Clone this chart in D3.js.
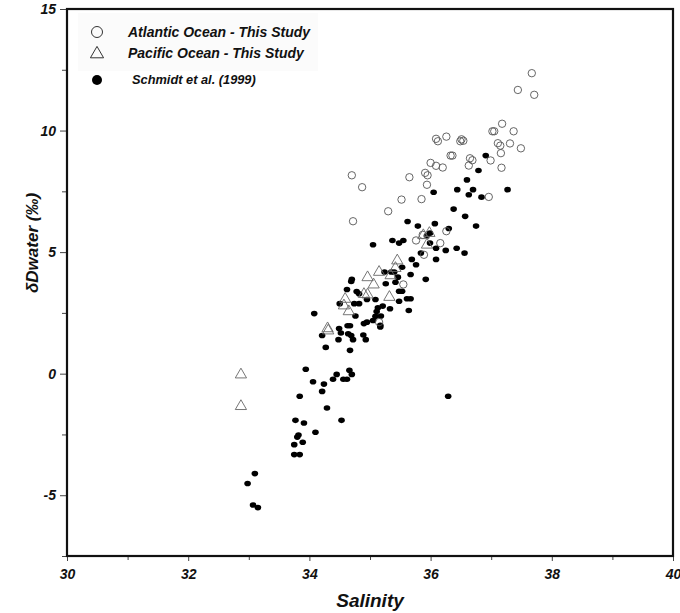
<!DOCTYPE html>
<html>
<head>
<meta charset="utf-8">
<script src="https://cdn.jsdelivr.net/npm/d3@7"></script>
<style>
  body { margin: 0; background: #fff; }
  svg { display: block; font-family: "Liberation Sans", Arial, sans-serif; }
  .tick text { font-weight: bold; font-style: italic; font-size: 14px; fill: #111; }
</style>
</head>
<body>
<svg id="chart" width="680" height="613"></svg>
<script>
// Atlantic Ocean - This Study (salinity, dD)
const atlantic = [
  [37.67, 12.36], [37.44, 11.67], [37.71, 11.47], [37.18, 10.28], [37.02, 9.97],
  [37.05, 9.97], [37.37, 9.97], [36.09, 9.66], [36.12, 9.56], [36.26, 9.75],
  [36.51, 9.64], [36.54, 9.58], [36.49, 9.56], [37.11, 9.48], [37.15, 9.38],
  [37.31, 9.47], [37.49, 9.27], [37.16, 9.07], [36.33, 8.97], [36.36, 8.97],
  [36.65, 8.86], [36.69, 8.78], [36.99, 8.77], [36.63, 8.56], [36.00, 8.67],
  [36.09, 8.55], [36.20, 8.48], [37.17, 8.47], [35.91, 8.26], [35.95, 8.16],
  [35.65, 8.08], [35.94, 7.77], [35.52, 7.16], [35.85, 7.18], [36.96, 7.27],
  [36.26, 5.86], [35.76, 5.48], [36.16, 5.37], [35.89, 4.89], [34.70, 8.16],
  [34.87, 7.67], [35.30, 6.68], [34.72, 6.27], [35.55, 3.67], [35.15, 2.12],
  [35.87, 5.71]
];

// Pacific Ocean - This Study
const pacific = [
  [35.45, 4.69], [35.42, 4.38], [34.96, 4.00], [35.15, 4.22], [35.06, 3.70],
  [35.34, 4.08], [34.90, 3.31], [34.96, 3.29], [34.59, 3.11], [34.57, 2.84],
  [34.65, 2.60], [35.32, 3.19], [34.30, 1.90], [34.31, 1.81], [32.87, 0.00],
  [32.87, -1.30], [35.88, 5.73], [35.98, 5.82], [35.94, 5.34]
];

// Schmidt et al. (1999)
const schmidt = [
  [36.91, 8.97], [36.79, 8.36], [36.60, 7.97], [36.44, 7.57], [36.70, 7.57],
  [36.63, 7.36], [36.84, 7.26], [37.27, 7.57], [36.05, 7.46], [36.38, 6.77],
  [36.57, 6.47], [36.75, 6.07], [35.62, 6.26], [35.79, 6.07], [36.07, 6.17],
  [36.30, 5.97], [35.55, 5.48], [35.94, 5.68], [35.99, 5.78], [35.99, 5.37],
  [36.09, 5.16], [36.25, 5.07], [36.43, 5.16], [36.56, 4.96], [35.84, 4.96],
  [35.69, 4.70], [36.09, 4.70], [35.05, 5.30], [35.37, 5.48], [35.48, 5.37],
  [35.76, 4.48], [35.67, 4.08], [35.53, 4.38], [35.40, 4.18], [35.35, 4.18],
  [35.24, 4.18], [35.26, 3.70], [35.46, 3.97], [35.42, 3.76], [35.92, 3.88],
  [35.48, 3.39], [35.53, 3.39], [35.48, 2.98], [35.61, 3.08], [35.67, 3.08],
  [35.64, 2.60], [34.70, 3.88], [34.69, 3.79], [34.62, 3.46], [34.78, 3.38],
  [34.82, 3.29], [34.95, 3.05], [35.09, 3.05], [34.50, 2.88], [34.82, 2.88],
  [34.74, 2.88], [35.13, 2.71], [35.21, 2.78], [35.33, 2.67], [35.11, 2.56],
  [35.09, 2.36], [35.18, 2.37], [34.76, 2.37], [34.08, 2.47], [34.95, 2.12],
  [35.05, 2.19], [34.90, 2.06], [35.17, 1.99], [35.17, 1.92], [34.63, 1.97],
  [34.67, 1.97], [34.49, 1.86], [34.52, 1.67], [34.64, 1.64], [34.21, 1.57],
  [34.69, 1.57], [34.72, 1.40], [34.89, 1.59], [34.93, 1.40], [34.48, 1.40],
  [34.27, 1.08], [34.67, 0.96], [33.94, 0.18], [34.06, -0.33], [34.24, -0.43],
  [34.45, -0.03], [34.39, -0.23], [34.66, 0.14], [34.70, -0.03], [34.56, -0.23],
  [34.62, -0.23], [34.21, -0.73], [33.84, -0.93], [34.29, -1.41], [34.53, -1.92],
  [33.77, -1.92], [33.91, -2.03], [34.10, -2.41], [33.82, -2.52], [33.80, -2.61],
  [33.75, -2.92], [33.89, -2.82], [33.75, -3.33], [33.84, -3.33], [33.10, -4.11],
  [32.98, -4.52], [33.07, -5.40], [33.15, -5.51], [36.29, -0.93]
];

const xMajor = [30, 32, 34, 36, 38, 40];
const xMinor = [31, 33, 35, 37, 39];
const yMajor = [-5, 0, 5, 10, 15];
const yMinor = [-7.5, -2.5, 2.5, 7.5, 12.5];

const legendItems = [
  { label: 'Atlantic Ocean - This Study', type: 'circle' },
  { label: 'Pacific Ocean - This Study', type: 'triangle' },
  { label: 'Schmidt et al. (1999)', type: 'dot' }
];

const svg = d3.select('#chart');
const plot = { left: 67, right: 673, top: 9, bottom: 556 };

const x = d3.scaleLinear().domain([30, 40]).range([plot.left, plot.right]);
const y = d3.scaleLinear().domain([-7.5, 15]).range([plot.bottom, plot.top]);

// axes (plain hyphen for negatives, like the original)
const plain = d => String(d);
const xAxis = svg.append('g').attr('transform', `translate(0,${plot.bottom})`)
  .call(d3.axisBottom(x).tickValues(xMajor).tickFormat(plain).tickSize(5).tickPadding(5));
svg.append('g').attr('transform', `translate(0,${plot.bottom})`)
  .call(d3.axisBottom(x).tickValues(xMinor).tickFormat('').tickSize(4));
svg.append('g').attr('transform', `translate(${plot.left},0)`)
  .call(d3.axisLeft(y).tickValues(yMajor).tickFormat(plain).tickSize(7).tickPadding(4));
svg.append('g').attr('transform', `translate(${plot.left},0)`)
  .call(d3.axisLeft(y).tickValues(yMinor).tickFormat('').tickSize(5));
svg.selectAll('.domain').remove();
svg.selectAll('.tick line').attr('stroke', '#444').attr('stroke-width', 1);
xAxis.selectAll('.tick text').attr('dy', '0.9em');

// frame
svg.append('rect')
  .attr('x', plot.left).attr('y', plot.top)
  .attr('width', plot.right - plot.left).attr('height', plot.bottom - plot.top)
  .attr('fill', 'none').attr('stroke', '#111').attr('stroke-width', 2.2);

// legend
const lg = svg.append('g');
lg.append('rect').attr('x', 78).attr('y', 13).attr('width', 240).attr('height', 58)
  .attr('fill', '#fbfbfb');
const triangle = d3.symbol().type(d3.symbolTriangle);
legendItems.forEach((d, i) => {
  const cy = [32, 53, 80][i];
  if (d.type === 'circle') {
    lg.append('circle').attr('cx', 97).attr('cy', cy).attr('r', 5.5)
      .attr('fill', 'none').attr('stroke', '#333').attr('stroke-width', 1);
  } else if (d.type === 'triangle') {
    lg.append('path').attr('d', triangle.size(75)())
      .attr('transform', `translate(97,${cy + 1})`)
      .attr('fill', 'none').attr('stroke', '#333').attr('stroke-width', 1);
  } else {
    lg.append('circle').attr('cx', 97).attr('cy', cy).attr('r', 5)
      .attr('fill', '#000');
  }
  lg.append('text')
    .attr('x', d.type === 'dot' ? 132 : 128).attr('y', cy).attr('dy', '0.35em')
    .attr('font-weight', 'bold').attr('font-style', 'italic')
    .attr('font-size', d.type === 'dot' ? 12.8 : 14)
    .attr('fill', '#111')
    .text(d.label);
});

// points
const pts = svg.append('g');
pts.selectAll('.sch').data(schmidt).join('ellipse')
  .attr('class', 'sch')
  .attr('cx', d => x(d[0])).attr('cy', d => y(d[1]))
  .attr('rx', 3.3).attr('ry', 2.8)
  .attr('fill', '#000');
pts.selectAll('.atl').data(atlantic).join('circle')
  .attr('class', 'atl')
  .attr('cx', d => x(d[0])).attr('cy', d => y(d[1]))
  .attr('r', 3.7)
  .attr('fill', 'none').attr('stroke', '#555').attr('stroke-width', 0.9);
pts.selectAll('.pac').data(pacific).join('path')
  .attr('class', 'pac')
  .attr('d', triangle.size(55)())
  .attr('transform', d => `translate(${x(d[0])},${y(d[1]) + 1})`)
  .attr('fill', 'none').attr('stroke', '#666').attr('stroke-width', 0.9);

// axis titles
svg.append('text')
  .attr('x', (plot.left + plot.right) / 2).attr('y', 600)
  .attr('text-anchor', 'middle').attr('dy', '0.35em')
  .attr('font-weight', 'bold').attr('font-style', 'italic').attr('font-size', 19)
  .attr('fill', '#111')
  .text('Salinity');
svg.append('text')
  .attr('transform', 'translate(32,243) rotate(-90)')
  .attr('text-anchor', 'middle').attr('dy', '0.35em')
  .attr('font-weight', 'bold').attr('font-style', 'italic').attr('font-size', 17)
  .attr('fill', '#111')
  .text('δDwater (‰)');
</script>
</body>
</html>
